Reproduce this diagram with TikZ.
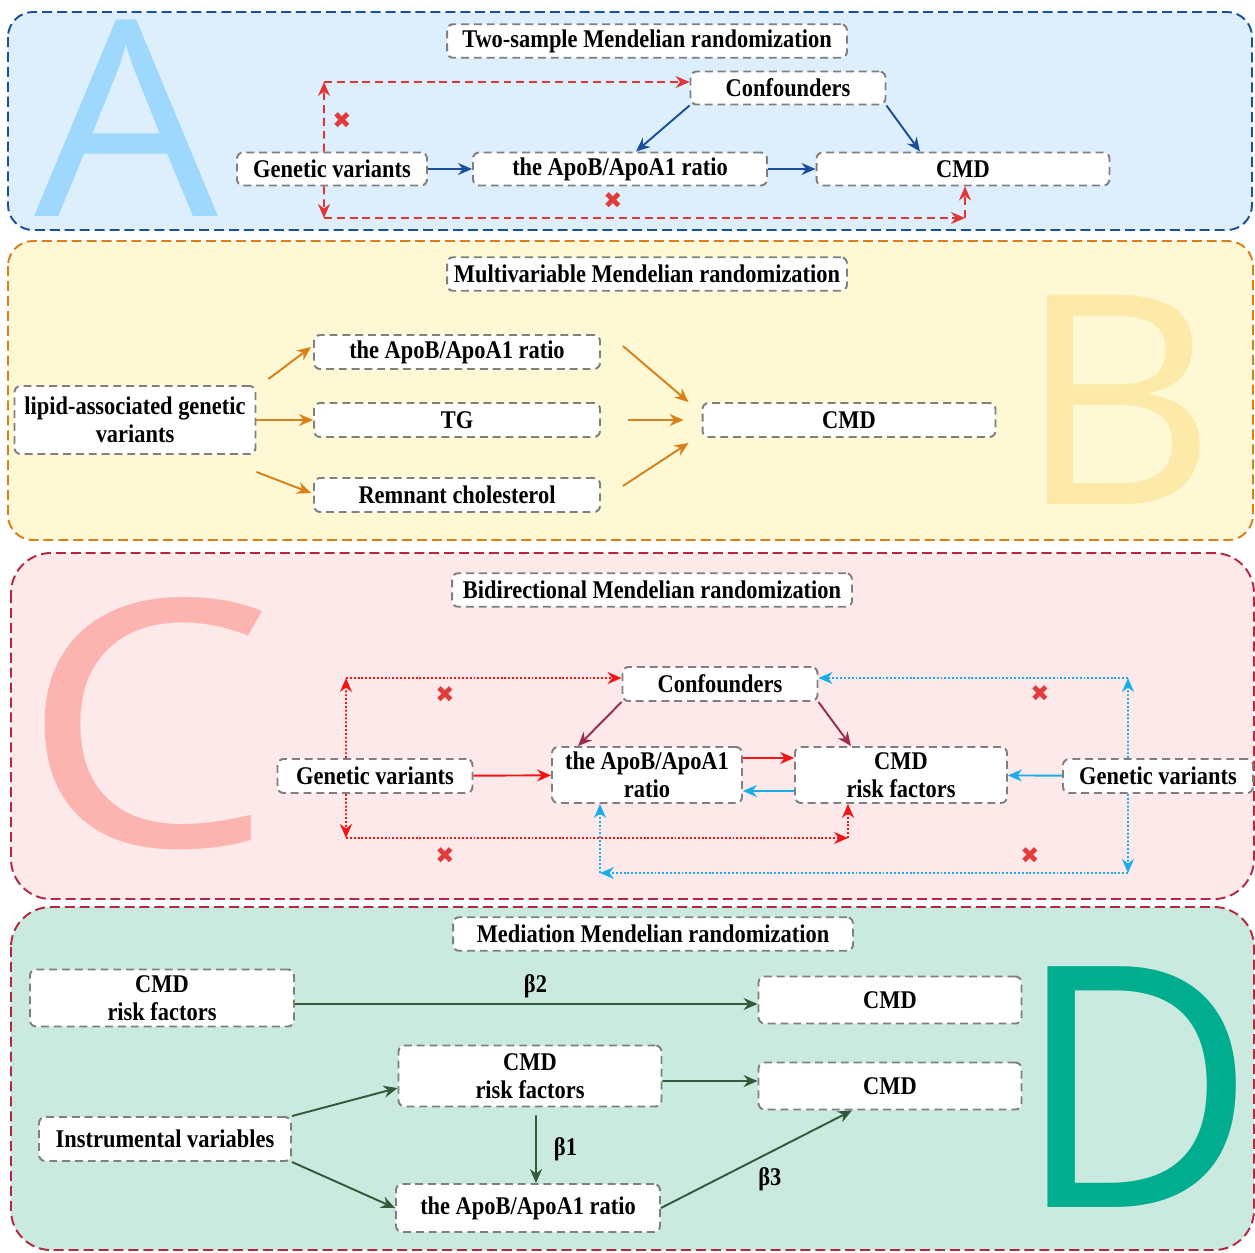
\documentclass[tikz,border=0pt]{standalone}
\usepackage{fontspec}
\setmainfont{Liberation Serif}[FakeStretch=0.88]
\newfontfamily\bigfont{Open Sans}
\newfontfamily\symfont{DejaVu Sans}
\usepackage{xcolor}
\usepackage{tikz}
\usetikzlibrary{arrows.meta,positioning}
\definecolor{mrgray}{HTML}{7F7F7F}
\definecolor{mrblueA}{HTML}{1B4F9C}
\definecolor{mrfillA}{HTML}{DDEEFD}
\definecolor{mrletA}{HTML}{9ED8FD}
\definecolor{mrorange}{HTML}{D9801A}
\definecolor{mrfillB}{HTML}{FEF8D5}
\definecolor{mrletB}{HTML}{FDE9A8}
\definecolor{mrwine}{HTML}{B4283F}
\definecolor{mrfillC}{HTML}{FDE8EA}
\definecolor{mrletC}{HTML}{FBB4B0}
\definecolor{mrfillD}{HTML}{CAEADF}
\definecolor{mrletD}{HTML}{00AD8F}
\definecolor{mrredA}{HTML}{E33535}
\definecolor{mrred}{HTML}{F51414}
\definecolor{mrcyan}{HTML}{19AEEA}
\definecolor{mrmaroon}{HTML}{9C2D50}
\definecolor{mrcross}{HTML}{E23B3B}
\definecolor{mrgreen}{HTML}{345A3B}
\tikzset{
  mrpanel/.style={line width=1.1pt, dash pattern=on 5.7pt off 2.8pt},
  mrbox/.style={draw=mrgray, fill=white, line width=1.1pt, dash pattern=on 4.5pt off 2.8pt,
    rounded corners=0.12cm, inner sep=0pt, align=center,
    font=\fontsize{14.5}{16}\selectfont\bfseries},
  mrtitle/.style={mrbox, minimum width=8cm, minimum height=0.67cm},
  mrletter/.style={inner sep=0pt, font=\bigfont},
  mrarrow/.style={line width=1.1pt, -{Stealth[length=0.28cm,width=0.24cm]}},
  mrdash/.style={mrarrow, draw=mrredA, dash pattern=on 4.5pt off 2.8pt},
  mrdot/.style={mrarrow, dash pattern=on 1.1pt off 1.1pt},
  mrcrossmark/.style={inner sep=0pt, text=mrcross, font=\symfont\fontsize{13}{13}\selectfont},
  mrbeta/.style={inner sep=0pt, text=black, font=\fontsize{14.5}{16}\selectfont\bfseries},
}
\begin{document}
\begin{tikzpicture}[x=0.02cm, y=-0.02cm]
\useasboundingbox (0,0) rectangle (1255,1252);
\filldraw[mrpanel, draw=mrblueA, fill=mrfillA, rounded corners=0.5cm] (8,12) rectangle (1252,230);
\filldraw[mrpanel, draw=mrorange, fill=mrfillB, rounded corners=0.5cm] (8,241) rectangle (1253,540);
\filldraw[mrpanel, draw=mrwine, fill=mrfillC, rounded corners=0.8cm] (11,553) rectangle (1254,899);
\filldraw[mrpanel, draw=mrwine, fill=mrfillD, rounded corners=0.8cm] (11,907) rectangle (1254,1250);
\node[mrletter, text=mrletA, font=\bigfont\fontsize{156}{156}\selectfont] (bigA) at (126,118) {\scalebox{1.06}[1]{A}};
\node[mrletter, text=mrletB, font=\bigfont\fontsize{167}{167}\selectfont] (bigB) at (1117,400) {\scalebox{1.05}[1]{B}};
\node[mrletter, text=mrletC, font=\bigfont\fontsize{191}{191}\selectfont] (bigC) at (148,724) {\scalebox{1.2}[1.025]{C}};
\node[mrletter, text=mrletD, font=\bigfont\fontsize{192}{192}\selectfont] (bigD) at (1136,1087) {\scalebox{0.98}[1]{D}};

\node[mrtitle] (titleA) at (647,41) {Two-sample Mendelian randomization};
\node[mrbox, minimum width=3.9cm, minimum height=0.66cm] (confA) at (788,88) {Confounders};
\node[mrbox, minimum width=3.8cm, minimum height=0.66cm] (geneA) at (332,169) {Genetic variants};
\node[mrbox, minimum width=5.88cm, minimum height=0.66cm] (ratioA) at (620,169) {the ApoB/ApoA1 ratio};
\node[mrbox, minimum width=5.86cm, minimum height=0.66cm] (cmdA) at (963,169) {CMD};
\coordinate (upA) at (324,82);
\coordinate (downA) at (324,218);
\coordinate (cornerA) at (965,218);
\draw[mrarrow, mrblueA] (geneA) -- (ratioA);
\draw[mrarrow, mrblueA] (ratioA) -- (cmdA);
\draw[mrarrow, mrblueA] (confA.south west) -- ([xshift=0.32cm]ratioA.north);
\draw[mrarrow, mrblueA] (confA.south east) -- ([xshift=-0.86cm]cmdA.north);
\draw[mrdash] ([xshift=-0.16cm]geneA.north) -- (upA);
\draw[mrdash] (upA) -- (confA.west |- upA);
\draw[mrdash] ([xshift=-0.16cm]geneA.south) -- (downA);
\draw[mrdash] (downA) -- (cornerA);
\draw[mrdash] (cornerA) -- (cmdA.south -| cornerA);
\node[mrcrossmark] (crossA1) at (342,121) {✖};
\node[mrcrossmark] (crossA2) at (613,201) {✖};

\node[mrtitle] (titleB) at (647,274) {Multivariable Mendelian randomization};
\node[mrbox, minimum width=4.82cm, minimum height=1.36cm] (lipid) at (135,420) {lipid-associated genetic\\variants};
\node[mrbox, minimum width=5.72cm, minimum height=0.68cm] (ratioB) at (457,352) {the ApoB/ApoA1 ratio};
\node[mrbox, minimum width=5.72cm, minimum height=0.68cm] (tg) at (457,420) {TG};
\node[mrbox, minimum width=5.72cm, minimum height=0.68cm] (remnant) at (457,495) {Remnant cholesterol};
\node[mrbox, minimum width=5.86cm, minimum height=0.68cm] (cmdB) at (849,420) {CMD};
\draw[mrarrow, mrorange] ([xshift=0.24cm,yshift=0.12cm]lipid.north east) -- ([xshift=-0.04cm,yshift=0.1cm]ratioB.west);
\draw[mrarrow, mrorange] (lipid.east) -- (tg.west);
\draw[mrarrow, mrorange] ([yshift=-0.34cm]lipid.south east) -- ([xshift=-0.04cm,yshift=0.04cm]remnant.west);
\draw[mrarrow, mrorange] ([xshift=0.44cm,yshift=0.12cm]ratioB.east) -- ([xshift=-0.26cm]cmdB.north west);
\draw[mrarrow, mrorange] ([xshift=0.54cm]tg.east) -- ([xshift=-0.36cm]cmdB.west);
\draw[mrarrow, mrorange] ([xshift=0.44cm,yshift=0.18cm]remnant.east) -- ([xshift=-0.26cm,yshift=-0.1cm]cmdB.south west);

\node[mrtitle] (titleC) at (652,590) {Bidirectional Mendelian randomization};
\node[mrbox, minimum width=3.9cm, minimum height=0.68cm] (confC) at (720,684) {Confounders};
\node[mrbox, minimum width=3.9cm, minimum height=0.68cm] (geneL) at (375,776) {Genetic variants};
\node[mrbox, minimum width=3.8cm, minimum height=1.12cm] (ratioC) at (647,775) {the ApoB/ApoA1\\ratio};
\node[mrbox, minimum width=4.24cm, minimum height=1.12cm] (riskC) at (901,775) {CMD\\risk factors};
\node[mrbox, minimum width=3.8cm, minimum height=0.68cm] (geneR) at (1158,776) {Genetic variants};
\coordinate (upL) at (346,678);
\coordinate (downL) at (346,838);
\coordinate (cornerL) at (848,838);
\coordinate (upR) at (1128,678);
\coordinate (downR) at (1128,873);
\coordinate (cornerR) at (600,873);
\draw[mrarrow, mrred] (geneL) -- (ratioC);
\draw[mrarrow, mrred] ([yshift=0.34cm]ratioC.east) -- ([yshift=0.34cm]riskC.west);
\draw[mrarrow, mrcyan] ([yshift=-0.32cm]riskC.west) -- ([yshift=-0.32cm]ratioC.east);
\draw[mrarrow, mrcyan] (geneR) -- (riskC);
\draw[mrarrow, mrmaroon] (confC.south west) -- ([xshift=-1.38cm]ratioC.north);
\draw[mrarrow, mrmaroon] (confC.south east) -- ([xshift=-1.0cm]riskC.north);
\draw[mrdot, mrred] ([xshift=-0.58cm]geneL.north) -- (upL);
\draw[mrdot, mrred] (upL) -- (confC.west |- upL);
\draw[mrdot, mrred] ([xshift=-0.58cm]geneL.south) -- (downL);
\draw[mrdot, mrred] (downL) -- (cornerL);
\draw[mrdot, mrred] (cornerL) -- (riskC.south -| cornerL);
\draw[mrdot, mrcyan] ([xshift=-0.6cm]geneR.north) -- (upR);
\draw[mrdot, mrcyan] (upR) -- (confC.east |- upR);
\draw[mrdot, mrcyan] ([xshift=-0.6cm]geneR.south) -- (downR);
\draw[mrdot, mrcyan] (downR) -- (cornerR);
\draw[mrdot, mrcyan] (cornerR) -- (ratioC.south -| cornerR);
\node[mrcrossmark] (crossC1) at (445,695) {✖};
\node[mrcrossmark] (crossC2) at (1040,694) {✖};
\node[mrcrossmark] (crossC3) at (445,856) {✖};
\node[mrcrossmark] (crossC4) at (1030,856) {✖};

\node[mrtitle] (titleD) at (653,934) {Mediation Mendelian randomization};
\node[mrbox, minimum width=5.28cm, minimum height=1.14cm] (riskD1) at (162,998) {CMD\\risk factors};
\node[mrbox, minimum width=5.26cm, minimum height=0.94cm] (cmdD1) at (890,1000) {CMD};
\node[mrbox, minimum width=5.26cm, minimum height=1.22cm] (riskD2) at (530,1076) {CMD\\risk factors};
\node[mrbox, minimum width=5.26cm, minimum height=0.94cm] (cmdD2) at (890,1086) {CMD};
\node[mrbox, minimum width=5.04cm, minimum height=0.88cm] (instr) at (165,1139) {Instrumental variables};
\node[mrbox, minimum width=5.28cm, minimum height=0.96cm] (ratioD) at (528,1208) {the ApoB/ApoA1 ratio};
\draw[mrarrow, mrgreen] ([yshift=-0.12cm]riskD1.east) -- ([yshift=-0.08cm]cmdD1.west)
  node[mrbeta, pos=0.52, above=0.1cm] (b2) {β2};
\draw[mrarrow, mrgreen] ([yshift=-0.1cm]riskD2.east) -- ([yshift=0.1cm]cmdD2.west);
\draw[mrarrow, mrgreen] (instr.north east) -- ([yshift=-0.24cm]riskD2.west);
\draw[mrarrow, mrgreen] (instr.south east) -- (ratioD.west);
\draw[mrarrow, mrgreen] ([xshift=0.12cm,yshift=-0.16cm]riskD2.south) -- ([xshift=0.16cm]ratioD.north)
  node[mrbeta, midway, right=0.34cm] (b1) {β1};
\draw[mrarrow, mrgreen] (ratioD.east) -- ([xshift=-0.76cm]cmdD2.south)
  node[mrbeta, pos=0.57, below=0.28cm] (b3) {β3};
\end{tikzpicture}
\end{document}
